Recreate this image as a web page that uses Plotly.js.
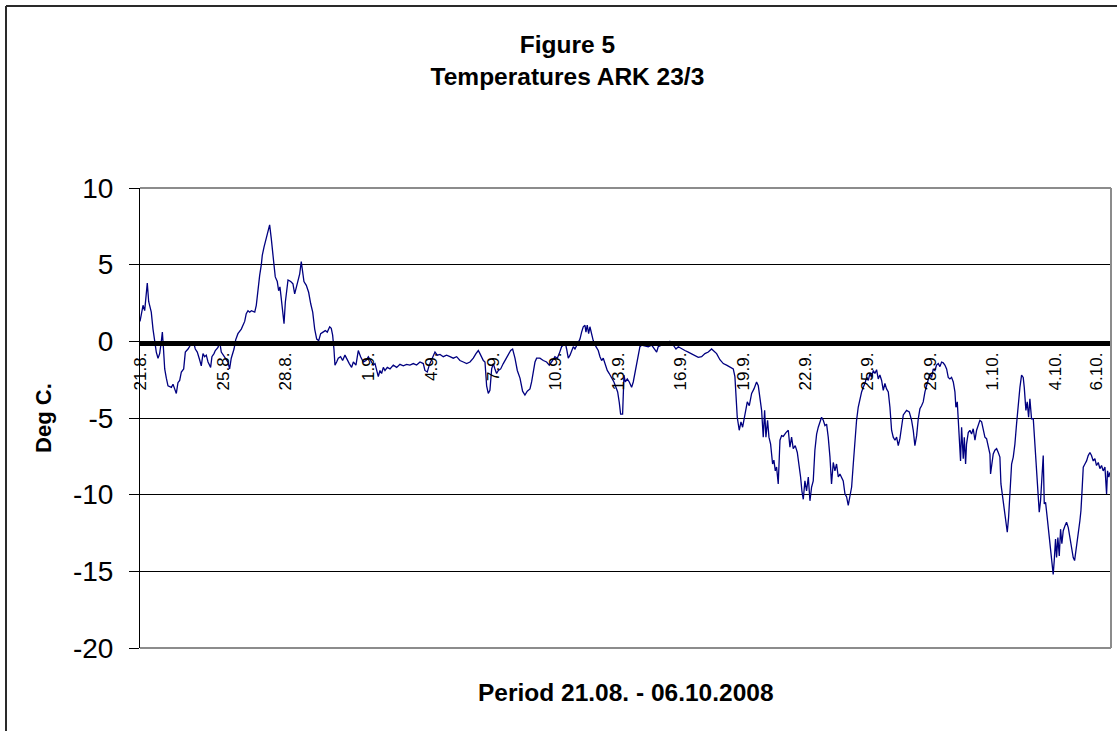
<!DOCTYPE html>
<html>
<head>
<meta charset="utf-8">
<script src="https://cdn.plot.ly/plotly-3.0.1.min.js"></script>
<style>
  html, body { margin: 0; padding: 0; background: #ffffff; }
  #chart { width: 1117px; height: 731px; }
</style>
</head>
<body>
<div id="chart"></div>
<script>
// Hours elapsed since 21.08.2008 00:00
const hourOffsets = [
  0,1.5,3.5,5.4,7.3,8.4,10,11.2,13,15,17,18.8,20.8,22.7,24.6,25.8,26.9,28.5,30.4,32.3,
  36.2,38.1,40,41.9,43.8,45.8,47.7,50.4,52.3,55.4,59.2,61.5,63.8,66.1,68.8,70.7,72.7,74.6,76.5,78.5,
  81.5,83,85.4,86.9,90,91.9,93.8,96.1,98.4,101.5,103.4,105.3,108.5,110.4,113,116.9,120.8,122.6,124.6,126.6,
  128.5,132.4,134.2,136.1,138.1,140,141.1,143.1,144.6,146.9,149.6,151.5,152.7,154.6,156.1,158.4,160,161.5,163,164.6,
  166.2,167.7,169.3,170.8,173.9,176.5,178.5,180.4,182.3,184.3,186.1,187.7,189.2,191.9,194.6,197,199.3,201.6,203.9,206.2,
  208.5,211.2,213.8,216.1,218.9,220.7,222.3,223.8,225,226.9,228.8,231.5,233.8,236.5,239.2,241.5,244.2,246.2,249.2,251.9,
  254.6,257.7,260.8,263.5,266.2,269.2,271.2,273.1,275,276.9,278.8,280.8,282.7,285.4,288.5,292.3,296.2,300,303.8,307.7,
  311.5,315.4,319.2,323.1,326.9,328.8,331.5,333.8,336.5,338.5,340.4,343.1,346.2,350,353.8,357.7,361.5,365.4,369.2,373.1,
  376.9,380.8,384.6,387.7,390.4,392.3,396.2,398.1,400,401.9,403.8,405.8,407.7,409.6,411.5,413.5,416.2,419.2,422.3,425,
  427.7,430,432.7,435.4,438.5,441.5,444.2,446.9,450,451.9,453.8,455.8,457.7,461.5,465.4,469.2,472.3,473.8,476.2,478.8,
  481.5,483.8,486.5,488.5,490.4,492.3,494.2,496.2,498,500,501.9,503.8,505.8,507.7,509.6,511.5,513.5,514.6,516.1,517.7,
  519.2,521.2,523,526.2,528.8,530.8,532.7,534.6,536.9,539.2,541.5,544.2,546.9,549.2,551.2,553.1,554.6,556.9,558.5,560,
  562.3,564.6,567.3,569.2,571.2,573.1,575,576.9,578.8,582.7,586.5,590.4,594.2,596.2,598,601.9,607.7,611.5,615.4,618.5,
  621.2,625,628.8,632.7,636.5,640.4,644.2,648.1,651.9,655.8,659.6,661.5,665.4,669.2,673.1,676.9,680.8,684.6,686.5,687.7,
  689.2,691.5,693.5,695.4,697.3,699.2,700.8,703.1,705.8,708.5,711.5,713.5,715.4,717.3,719.2,720.8,722.3,724.2,725.8,727.7,
  730,731.5,733.1,734.6,736.5,738.5,740.4,742.3,745.4,748.1,750,751.9,753.8,756.1,758.5,760.8,762.3,763.8,765.4,767.3,
  769.2,771.2,773.1,775,776.9,778.8,780.8,782.7,784.6,786.5,788.5,790.4,792.3,794.2,796.2,798,800,801.9,803.8,805.8,
  807.7,809.6,811.5,813.5,815.4,817.3,819.2,821.2,823.1,825,826.9,828.8,830.8,832.7,834.6,836.5,838.5,840.4,842.3,844.2,
  846.2,848.1,850,851.9,853.8,855.8,857.7,859.6,861.5,863.5,865.4,867.3,869.2,871.2,873.1,875,876.9,878.8,880.8,884.6,
  887.7,890.4,892.3,894.2,896.2,898.1,900,901.9,903.8,905.8,907.7,909.6,911.5,913.5,915.4,917.3,919.2,921.2,923.1,925,
  926.9,928.8,930.8,932.7,934.6,936.5,938.5,940.4,941.5,943.1,944.2,945.4,946.9,948.1,950,951.2,952.7,953.8,955.8,957.7,
  959.6,961.5,963.5,965.4,967.3,969.2,971.2,973.1,975,976.9,978.8,980.8,981.5,983.1,984.6,986.5,988.5,990.4,992.3,993.5,
  995,996.9,998.8,1000.8,1002.3,1003.8,1005.8,1007.7,1009.6,1011.5,1013.5,1015.4,1017.3,1019.2,1020.4,1022.3,1023.8,1025.4,1026.9,1028.8,
  1030.8,1032.7,1034.6,1036.5,1037.7,1039.2,1040.8,1042.3,1043.5,1045,1046.9,1048.8,1051.2,1052.7,1053.8,1055,1056.5,1057.7,1059.2,1060.8,
  1062.3,1063.8,1065.4,1067.3,1069.2,1071.2,1073.1,1075,1076.9,1078.5,1080,1081.5,1083.1,1084.6,1085.8,1086.9,1088.5,1090.4,1092.3,1094.2,
  1096.2,1098,1100,1101.9,1103.8,1105.8,1107.7,1109.6,1111.5,1113.5,1115.4,1116.5,1118,1119.2
];

// Air temperature, deg C
const tempC = [
  1.3,1.9,2.35,2.0,3.0,3.8,2.6,2.35,1.9,0.8,0,-0.7,-1.1,-0.8,0,0.6,-0.3,-1.8,-2.4,-2.9,
  -3.0,-2.8,-3.1,-3.4,-2.7,-2.55,-2.0,-1.8,-0.7,-0.5,-0.15,0,-0.5,-0.7,-1.2,-1.6,-0.8,-1.0,-0.9,-1.35,
  -1.7,-1.0,-0.8,-0.6,-0.4,0,-0.7,-0.9,-1.1,-1.35,-1.8,-1.1,-0.5,0.1,0.5,0.8,1.3,1.8,2.0,1.9,
  2.0,1.9,2.35,3.55,4.3,5.0,5.6,6.15,6.5,6.9,7.6,6.7,5.85,5.0,4.2,3.9,3.3,3.55,2.8,1.8,
  1.15,2.55,3.55,4.0,3.9,3.75,3.1,3.55,4.1,4.4,5.2,4.4,3.9,3.65,3.2,2.45,1.9,0.8,0.15,0.05,
  0.5,0.6,0.7,0.6,0.95,0.85,0.4,-0.5,-1.55,-1.35,-1.1,-1.0,-1.25,-0.9,-1.25,-1.45,-1.7,-1.35,-1.55,-0.6,
  -1.0,-1.35,-1.25,-1.0,-1.25,-1.55,-1.45,-2.0,-2.3,-1.9,-2.1,-1.7,-1.9,-1.7,-1.8,-1.55,-1.7,-1.5,-1.6,-1.5,
  -1.55,-1.45,-1.55,-1.35,-1.45,-1.9,-2.0,-1.55,-1.15,-0.9,-0.7,-0.9,-0.85,-1.0,-0.9,-1.0,-1.1,-1.0,-1.25,-1.35,
  -1.45,-1.35,-1.1,-0.8,-0.6,-0.8,-1.25,-1.35,-2.9,-3.4,-3.2,-1.8,-1.45,-1.8,-2.1,-1.9,-1.8,-1.45,-1.1,-0.8,
  -0.6,-0.5,-1.1,-1.9,-2.4,-3.25,-3.5,-3.25,-3.1,-2.65,-2.0,-1.35,-1.1,-1.1,-1.25,-1.35,-1.55,-1.45,-1.25,-1.0,
  -1.1,-0.8,-0.35,-0.25,0,-0.5,-1.1,-0.9,-0.6,-0.35,-0.5,-0.25,0,0.15,0.6,0.95,1.05,0.6,1.05,0.5,
  0.95,0.4,0.05,-0.35,-0.6,-1.0,-1.25,-1.1,-1.55,-1.9,-2.1,-2.35,-2.65,-3.0,-3.3,-4.0,-4.75,-4.75,-2.2,-2.65,
  -2.45,-2.65,-3.0,-2.65,-2.0,-1.55,-0.9,-0.35,-0.25,-0.3,-0.35,-0.25,-0.5,-0.7,-0.35,-0.25,-0.15,0,-0.25,-0.5,
  -0.35,-0.5,-0.6,-0.7,-0.8,-0.9,-1.05,-1.0,-0.8,-0.7,-0.5,-0.6,-0.8,-1.2,-1.45,-1.55,-1.7,-1.8,-2.3,-3.6,
  -4.95,-5.8,-5.25,-5.6,-5.05,-4.3,-3.95,-4.2,-3.4,-3.1,-2.65,-2.9,-3.55,-4.5,-6.25,-4.5,-6.25,-5.15,-6.25,-6.7,
  -8.0,-7.75,-8.45,-8.2,-9.3,-6.45,-6.15,-6.2,-5.95,-5.8,-6.9,-6.25,-7.0,-6.8,-7.25,-8.1,-8.85,-9.75,-10.3,-9.1,
  -9.75,-8.85,-10.4,-9.5,-9.1,-7.1,-6.05,-5.6,-5.25,-4.95,-5.15,-5.5,-5.4,-6.25,-7.55,-9.3,-7.9,-8.45,-8.0,-8.85,
  -8.65,-8.85,-9.1,-9.95,-10.15,-10.7,-9.95,-9.5,-8.0,-6.45,-5.15,-4.3,-3.65,-3.3,-3.0,-2.75,-2.35,-2.55,-2.1,-2.35,
  -1.9,-2.1,-1.85,-2.45,-2.2,-2.55,-3.2,-2.75,-3.1,-3.3,-4.3,-5.8,-6.25,-6.45,-6.25,-6.8,-6.35,-5.6,-4.8,-4.5,
  -4.6,-5.15,-5.8,-6.8,-6.15,-5.05,-4.4,-4.2,-3.95,-3.3,-2.9,-2.35,-2.1,-2.35,-1.8,-1.9,-1.55,-1.45,-1.65,-1.35,
  -1.4,-1.55,-1.8,-2.35,-2.45,-2.35,-2.65,-3.3,-4.3,-3.95,-5.05,-6.45,-7.8,-5.6,-7.65,-6.25,-8.0,-6.7,-5.95,-5.8,
  -6.05,-5.7,-6.45,-5.8,-5.4,-5.15,-5.25,-5.8,-6.25,-6.35,-6.8,-7.35,-8.65,-8.0,-7.35,-7.1,-7.0,-7.25,-7.55,-9.3,
  -9.95,-10.85,-11.5,-12.45,-11.5,-9.95,-8.0,-7.55,-6.7,-5.4,-4.05,-3.0,-2.2,-2.35,-3.0,-4.5,-3.95,-4.95,-3.75,-5.05,
  -5.05,-6.7,-8.65,-10.4,-11.15,-10.4,-9.2,-7.45,-10.6,-10.5,-11.5,-12.55,-13.65,-14.55,-15.2,-14.3,-12.9,-14.1,-12.8,-14.0,
  -12.25,-13.2,-12.35,-12.05,-11.8,-12.15,-12.8,-13.45,-14.1,-14.3,-13.75,-13.2,-12.35,-11.7,-11.05,-9.95,-8.2,-8.0,-7.8,-7.45,
  -7.25,-7.45,-7.8,-7.65,-8.1,-7.9,-8.3,-8.1,-8.45,-8.2,-9.95,-8.45,-8.85,-8.55
];

// Date labels along the 0 deg line
const tickHours  = [0, 96, 168, 264, 336, 408, 480, 552, 624, 696, 768, 840, 912, 984, 1056, 1104];
const tickLabels = ['21.8.', '25.8.', '28.8.', '1.9.', '4.9.', '7.9.', '10.9.', '13.9.',
                    '16.9.', '19.9.', '22.9.', '25.9.', '28.9.', '1.10.', '4.10.', '6.10.'];

const tempTicks = [10, 5, 0, -5, -10, -15, -20];

const FONT = 'Liberation Sans, Arial, Helvetica, sans-serif';

const trace = {
  x: hourOffsets,
  y: tempC,
  type: 'scatter',
  mode: 'lines',
  line: { color: '#000080', width: 1.3 },
  hoverinfo: 'skip'
};

// Plot-area frame (top, right, bottom) and the chart-area frame
const frameColor = '#8c8c8c';
const shapes = [
  { type: 'line', xref: 'paper', yref: 'paper', x0: 0, x1: 1, y0: 1, y1: 1,
    line: { color: frameColor, width: 2 }, layer: 'above' },
  { type: 'line', xref: 'paper', yref: 'paper', x0: 1, x1: 1, y0: 0, y1: 1,
    line: { color: frameColor, width: 2 }, layer: 'above' },
  { type: 'line', xref: 'paper', yref: 'paper', x0: 0, x1: 1, y0: 0, y1: 0,
    line: { color: frameColor, width: 2 }, layer: 'above' },
  { type: 'line', xref: 'paper', yref: 'paper', x0: -0.138, x1: 1.02, y0: 1.3957, y1: 1.3957,
    line: { color: '#2a2a2a', width: 2 }, layer: 'above' },
  { type: 'line', xref: 'paper', yref: 'paper', x0: -0.138, x1: -0.138, y0: 1.3957, y1: -0.25,
    line: { color: '#2a2a2a', width: 2 }, layer: 'above' }
];

const layout = {
  width: 1117,
  height: 731,
  margin: { l: 140, r: 6, t: 188, b: 83, pad: 0 },
  paper_bgcolor: '#ffffff',
  plot_bgcolor: '#ffffff',
  showlegend: false,
  title: {
    text: 'Figure 5<br>Temperatures ARK 23/3',
    font: { family: FONT, size: 24.5, color: '#000000', weight: 'bold' },
    xref: 'container', x: 0.508, xanchor: 'center',
    yref: 'container', y: 0.927, yanchor: 'top'
  },
  xaxis: {
    range: [0, 1120.5],
    anchor: 'free',
    position: 0.6635,
    showgrid: false,
    zeroline: false,
    showline: true,
    linecolor: '#000000',
    linewidth: 5,
    ticks: '',
    tickmode: 'array',
    tickvals: tickHours,
    ticktext: tickLabels,
    tickangle: -90,
    tickfont: { family: FONT, size: 17, color: '#000000' },
    fixedrange: true
  },
  yaxis: {
    range: [-20, 10],
    tickmode: 'array',
    tickvals: tempTicks,
    ticktext: tempTicks.map(String),
    showgrid: true,
    gridcolor: '#000000',
    gridwidth: 1,
    zeroline: false,
    showline: true,
    linecolor: '#000000',
    linewidth: 1,
    ticks: 'outside',
    ticklen: 10,
    tickcolor: '#000000',
    tickwidth: 1,
    ticklabelstandoff: 10,
    tickfont: { family: FONT, size: 28, color: '#000000' },
    fixedrange: true
  },
  annotations: [
    { text: 'Deg C.', xref: 'paper', yref: 'paper', x: -0.1, y: 0.5,
      xanchor: 'center', yanchor: 'middle', textangle: -90, showarrow: false,
      font: { family: FONT, size: 22, color: '#000000', weight: 'bold' } },
    { text: 'Period 21.08. - 06.10.2008', xref: 'paper', yref: 'paper', x: 0.5, y: -0.0957,
      xanchor: 'center', yanchor: 'middle', showarrow: false,
      font: { family: FONT, size: 24.5, color: '#000000', weight: 'bold' } }
  ],
  shapes: shapes
};

Plotly.newPlot('chart', [trace], layout, { displayModeBar: false, staticPlot: true });
</script>
</body>
</html>
